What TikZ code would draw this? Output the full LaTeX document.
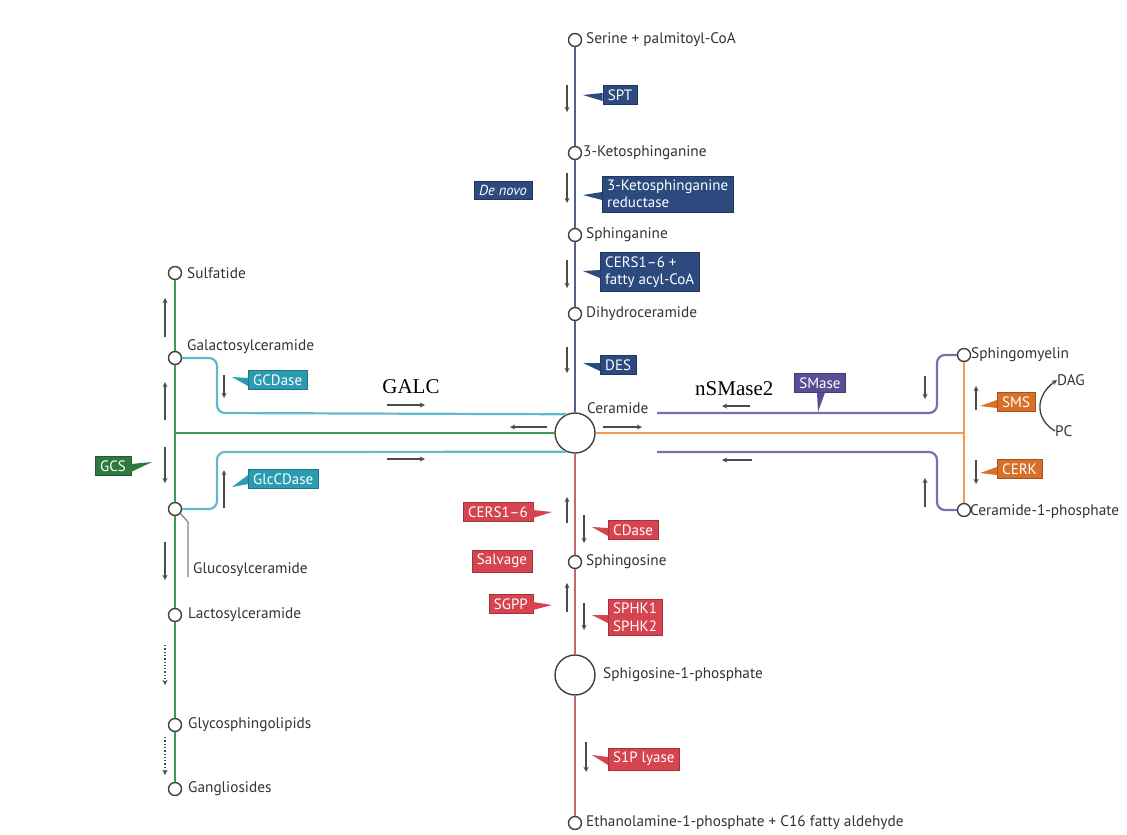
\documentclass[tikz,border=0pt]{standalone}
\usepackage{fontspec}
\setmainfont{PT Sans}
\newfontfamily\galcfont{Liberation Serif}
\usetikzlibrary{arrows}

\definecolor{dnbox}{HTML}{2C4A7E}
\definecolor{dnline}{HTML}{55608F}
\definecolor{svbox}{HTML}{D6454F}
\definecolor{svline}{HTML}{C8666C}
\definecolor{tlbox}{HTML}{2A9BB0}
\definecolor{tlline}{HTML}{62B8CC}
\definecolor{gnbox}{HTML}{2E7A3E}
\definecolor{gnline}{HTML}{3E9A4E}
\definecolor{orbox}{HTML}{D8702A}
\definecolor{orline}{HTML}{F09A5A}
\definecolor{ppbox}{HTML}{5A4D94}
\definecolor{ppline}{HTML}{7A6DB0}

\begin{document}
\begin{tikzpicture}[x=1pt, y=-1pt,
    met/.style={circle, draw=black!75, fill=white, line width=1.4pt, minimum size=13pt, inner sep=0pt},
    bigmet/.style={met, minimum size=40pt},
    lbl/.style={anchor=west, inner sep=0pt, text=black!80, font=\fontsize{15.3}{17}\selectfont},
    enz/.style={fill=#1, draw=#1!75!black, text=white, inner xsep=5pt, inner ysep=4pt, align=left, font=\fontsize{15}{17.5}\selectfont},
    flow/.style={->, >=stealth, draw=black!70, line width=1.3pt},
    path/.style={line width=2.2pt, draw=#1}
    ]
        \useasboundingbox (0,0) rectangle (1127,835);

        %Metabolites
        \node[met]    (ser)    at (575,40)  {};
        \node[met]    (keto)   at (575,153) {};
        \node[met]    (sphga)  at (575,235) {};
        \node[met]    (dhc)    at (575,314) {};
        \node[bigmet] (cer)    at (575,433) {};
        \node[met]    (sph)    at (575,562) {};
        \node[bigmet] (s1p)    at (575,675) {};
        \node[met]    (eth)    at (575,823) {};
        \node[met]    (sulf)   at (175,273) {};
        \node[met]    (galcer) at (175,358) {};
        \node[met]    (glccer) at (175,509) {};
        \node[met]    (laccer) at (175,615) {};
        \node[met]    (gsl)    at (175,725) {};
        \node[met]    (gang)   at (175,789) {};
        \node[met]    (sm)     at (964,355) {};
        \node[met]    (c1p)    at (964,510) {};

        %Labels
        \node[lbl] (serL)    at (586,40)  {Serine + palmitoyl-CoA};
        \node[lbl] (ketoL)   at (583,153) {3-Ketosphinganine};
        \node[lbl] (sphgaL)  at (586,235) {Sphinganine};
        \node[lbl] (dhcL)    at (586,314) {Dihydroceramide};
        \node[lbl] (cerL)    at (587,408) {Ceramide};
        \node[lbl] (sphL)    at (586,562) {Sphingosine};
        \node[lbl] (s1pL)    at (603,675) {Sphigosine-1-phosphate};
        \node[lbl] (ethL)    at (586,823) {Ethanolamine-1-phosphate + C16 fatty aldehyde};
        \node[lbl] (sulfL)   at (187,273) {Sulfatide};
        \node[lbl] (galcerL) at (187,347) {Galactosylceramide};
        \node[lbl] (glccerL) at (193,570) {Glucosylceramide};
        \node[lbl] (laccerL) at (188,615) {Lactosylceramide};
        \node[lbl] (gslL)    at (188,725) {Glycosphingolipids};
        \node[lbl] (gangL)   at (188,789) {Gangliosides};
        \node[lbl] (smL)     at (971,355) {Sphingomyelin};
        \node[lbl] (c1pL)    at (970,512) {Ceramide-1-phosphate};
        \node[lbl] (dag)     at (1057,380) {DAG};
        \node[lbl] (pc)      at (1055,431) {PC};
        \node[font=\galcfont\fontsize{21}{23}\selectfont] (galc) at (411,387) {GALC};
        \node[font=\galcfont\fontsize{21}{23}\selectfont, anchor=west, inner sep=0pt] (nsm) at (695,389) {nSMase2};

        %Enzymes
        \node[enz=dnbox] (spt)    at (620,95)  {SPT};
        \node[enz=dnbox, font=\fontsize{14.5}{17}\selectfont\itshape] (denovo) at (503,190) {De novo};
        \node[enz=dnbox, anchor=west] (ksr)  at (602,194) {3-Ketosphinganine\\reductase};
        \node[enz=dnbox, anchor=west] (cers) at (600,272) {CERS1--6 +\\fatty acyl-CoA};
        \node[enz=dnbox, anchor=west] (des)  at (600,365) {DES};
        \node[enz=ppbox] (smase)  at (820,383) {SMase};
        \node[enz=orbox, anchor=west] (sms)  at (997,402) {SMS};
        \node[enz=orbox, anchor=west] (cerk) at (997,469) {CERK};
        \node[enz=tlbox, anchor=west] (gcd)  at (248,380) {GCDase};
        \node[enz=tlbox, anchor=west] (glcd) at (248,479) {GlcCDase};
        \node[enz=gnbox] (gcs)    at (113,466) {GCS};
        \node[enz=svbox, anchor=east] (cersr) at (533,512) {CERS1--6};
        \node[enz=svbox, anchor=west] (cdase) at (608,530) {CDase};
        \node[enz=svbox] (salv)   at (502,561) {Salvage};
        \node[enz=svbox, anchor=east] (sgpp)  at (533,604) {SGPP};
        \node[enz=svbox, anchor=west] (sphk)  at (608,617) {SPHK1\\SPHK2};
        \node[enz=svbox, anchor=west] (lyase) at (608,759) {S1P lyase};

        %Pointers
        \fill[dnbox] ([yshift=2pt]spt.west) -- (583,95) -- ([yshift=-6pt]spt.west) -- cycle;
        \fill[dnbox] ([yshift=2pt]ksr.west) -- (583,195) -- ([yshift=-6pt]ksr.west) -- cycle;
        \fill[dnbox] ([yshift=2pt]cers.west) -- (583,271) -- ([yshift=-6pt]cers.west) -- cycle;
        \fill[dnbox] ([yshift=2pt]des.west) -- (583,363) -- ([yshift=-6pt]des.west) -- cycle;
        \fill[ppbox] ([xshift=-3pt]smase.south) -- (818,412) -- ([xshift=5pt]smase.south) -- cycle;
        \fill[orbox] ([yshift=2pt]sms.west) -- (980,406) -- ([yshift=-6pt]sms.west) -- cycle;
        \fill[orbox] ([yshift=2pt]cerk.west) -- (980,473) -- ([yshift=-6pt]cerk.west) -- cycle;
        \fill[tlbox] ([yshift=2pt]gcd.west) -- (232,377) -- ([yshift=-6pt]gcd.west) -- cycle;
        \fill[tlbox] ([yshift=4pt]glcd.west) -- (232,487) -- ([yshift=-5pt]glcd.west) -- cycle;
        \fill[gnbox] ([yshift=2pt]gcs.east) -- (152,462) -- ([yshift=-6pt]gcs.east) -- cycle;
        \fill[svbox] ([yshift=2pt]cersr.east) -- (552,512) -- ([yshift=-6pt]cersr.east) -- cycle;
        \fill[svbox] ([yshift=2pt]cdase.west) -- (592,527) -- ([yshift=-6pt]cdase.west) -- cycle;
        \fill[svbox] ([yshift=2pt]sgpp.east) -- (552,605) -- ([yshift=-6pt]sgpp.east) -- cycle;
        \fill[svbox] ([yshift=2pt]sphk.west) -- (592,615) -- ([yshift=-6pt]sphk.west) -- cycle;
        \fill[svbox] ([yshift=2pt]lyase.west) -- (592,755) -- ([yshift=-6pt]lyase.west) -- cycle;

        %Pathways
        \coordinate (gj) at (175,433);
        \coordinate (oj) at (964,433);
        \coordinate (pu) at (657,413);
        \coordinate (pl) at (657,452);
        \draw[path=dnline] (ser) -- (keto) -- (sphga) -- (dhc) -- (cer);
        \draw[path=svline] (cer) -- (sph) -- (s1p) -- (eth);
        \draw[path=gnline] (sulf) -- (galcer) -- (glccer) -- (laccer) -- (gsl) -- (gang);
        \draw[path=gnline] (gj) -- (cer);
        \draw[path=tlline, rounded corners=8pt] (galcer) -- (217,358) -- (217,413) -- (cer.115);
        \draw[path=tlline, rounded corners=8pt] (glccer) -- (217,509) -- (217,452) -- (cer.245);
        \draw[path=orline] (cer) -- (oj);
        \draw[path=orline] (sm) -- (c1p);
        \draw[path=ppline, rounded corners=8pt] (pu) -- (937,413) -- (937,355) -- (sm);
        \draw[path=ppline, rounded corners=8pt] (pl) -- (937,452) -- (937,510) -- (c1p);
        \draw[draw=black!50, line width=1.2pt] (glccer.-40) -- (188,522) -- ([xshift=-5pt]glccerL.south west);
        \draw[->, >=stealth, draw=black!75, line width=1.3pt] (pc.west) .. controls (1035,419) and (1035,396) .. (dag.west);

        %Arrows
        \draw[flow] (567,85) -- (567,112);
        \draw[flow] (567,173) -- (567,203);
        \draw[flow] (567,260) -- (567,288);
        \draw[flow] (567,347) -- (567,373);
        \draw[flow] (547,427) -- (510,427);
        \draw[flow] (603,427) -- (642,427);
        \draw[flow] (387,405) -- (425,405);
        \draw[flow] (387,459) -- (425,459);
        \draw[flow] (750,406) -- (722,406);
        \draw[flow] (752,460) -- (722,460);
        \draw[flow] (567,523) -- (567,497);
        \draw[flow] (584,515) -- (584,543);
        \draw[flow] (567,612) -- (567,583);
        \draw[flow] (584,603) -- (584,630);
        \draw[flow] (586,742) -- (586,772);
        \draw[flow] (165,337) -- (165,298);
        \draw[flow] (165,420) -- (165,382);
        \draw[flow] (165,447) -- (165,483);
        \draw[flow] (165,542) -- (165,580);
        \draw[flow, dotted] (165,645) -- (165,685);
        \draw[flow, dotted] (165,737) -- (165,775);
        \draw[flow] (224,375) -- (224,398);
        \draw[flow] (224,508) -- (224,470);
        \draw[flow] (925,376) -- (925,399);
        \draw[flow] (925,507) -- (925,478);
        \draw[flow] (976,410) -- (976,386);
        \draw[flow] (976,460) -- (976,484);
    \end{tikzpicture}
\end{document}
